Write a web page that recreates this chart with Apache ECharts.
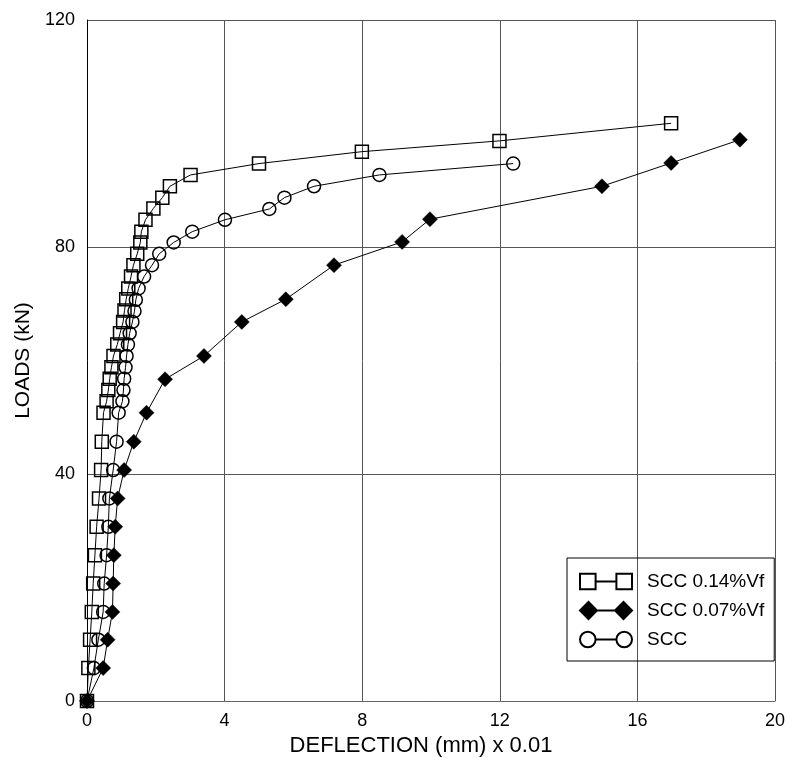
<!DOCTYPE html>
<html>
<head>
<meta charset="utf-8">
<script src="https://cdn.jsdelivr.net/npm/echarts@6/dist/echarts.min.js"></script>
<style>
  html, body { margin: 0; padding: 0; background: #fff; }
  #chart { width: 787px; height: 758px; }
</style>
</head>
<body>
<div id="chart"></div>
<script>
// load steps (kN) and deflections (mm x 0.01)
var loadsVf014 = [0, 5.8, 10.8, 15.7, 20.7, 25.7, 30.7, 35.7, 40.7, 45.7, 50.8, 52.8, 54.8, 56.8, 58.8, 60.8, 62.8, 64.8, 66.8, 68.8, 70.8, 72.7, 74.8, 76.8, 78.8, 80.8, 82.7, 84.8, 86.8, 88.7, 90.7, 92.7, 94.7, 96.8, 98.7, 101.8];
var deflVf014 = [0, 0.04, 0.09, 0.14, 0.18, 0.23, 0.28, 0.35, 0.41, 0.43, 0.48, 0.57, 0.62, 0.66, 0.71, 0.77, 0.88, 0.96, 1.05, 1.09, 1.14, 1.2, 1.28, 1.35, 1.46, 1.55, 1.58, 1.7, 1.93, 2.19, 2.41, 3.01, 5.0, 7.99, 11.99, 16.98];

var loadsVf007 = [0, 5.8, 10.8, 15.7, 20.7, 25.7, 30.7, 35.7, 40.7, 45.7, 50.8, 56.7, 60.8, 66.8, 70.8, 76.8, 80.9, 84.9, 90.7, 94.8, 98.9];
var deflVf007 = [0, 0.47, 0.6, 0.74, 0.76, 0.78, 0.82, 0.89, 1.08, 1.36, 1.73, 2.27, 3.4, 4.5, 5.78, 7.18, 9.16, 9.97, 14.97, 16.98, 18.98];

var loadsScc = [0, 5.8, 10.8, 15.7, 20.7, 25.7, 30.7, 35.7, 40.7, 45.7, 50.8, 52.8, 54.8, 56.8, 58.8, 60.8, 62.8, 64.8, 66.8, 68.7, 70.7, 72.7, 74.8, 76.8, 78.8, 80.8, 82.7, 84.8, 86.7, 88.7, 90.7, 92.7, 94.7];
var deflScc = [0, 0.2, 0.33, 0.47, 0.5, 0.57, 0.62, 0.65, 0.76, 0.86, 0.92, 1.03, 1.06, 1.08, 1.12, 1.15, 1.19, 1.24, 1.32, 1.38, 1.42, 1.5, 1.66, 1.89, 2.1, 2.52, 3.06, 4.01, 5.3, 5.74, 6.6, 8.5, 12.39];

var seriesNames = ['SCC 0.14%Vf', 'SCC 0.07%Vf', 'SCC'];

function pairs(xs, ys) {
    var out = [];
    for (var i = 0; i < xs.length; i++) out.push([xs[i], ys[i]]);
    return out;
}

var font = 'Liberation Sans, Arial, sans-serif';
var myChart = echarts.init(document.getElementById('chart'), null, { renderer: 'canvas' });

var option = {
    animation: false,
    backgroundColor: '#fff',
    textStyle: { fontFamily: font, color: '#000' },
    grid: { left: 87, right: 12, top: 20, bottom: 57, containLabel: false, outerBoundsMode: 'none' },
    legend: {
        orient: 'vertical',
        left: 567,
        top: 558,
        padding: [14, 10, 12, 12],
        itemGap: 10,
        itemWidth: 52,
        itemHeight: 17,
        borderColor: '#000',
        borderWidth: 1,
        backgroundColor: 'transparent',
        textStyle: { fontFamily: font, fontSize: 19, color: '#000', padding: [0, 0, 0, 10] },
        data: [
            { name: seriesNames[0], icon: 'path://M1,1 h15 v15 h-15 Z M16,8.5 h20 M36,1 h15 v15 h-15 Z' },
            { name: seriesNames[1], icon: 'path://M0,8.5 L8.5,0 L17,8.5 L8.5,17 Z M17,8.5 h18 M35,8.5 L43.5,0 L52,8.5 L43.5,17 Z' },
            { name: seriesNames[2], icon: 'path://M1,8.5 a7.5,7.5 0 1,0 15,0 a7.5,7.5 0 1,0 -15,0 Z M16,8.5 h20 M36,8.5 a7.5,7.5 0 1,0 15,0 a7.5,7.5 0 1,0 -15,0 Z' }
        ]
    },
    xAxis: {
        type: 'value',
        min: 0,
        max: 20,
        interval: 4,
        name: 'DEFLECTION (mm) x 0.01',
        nameLocation: 'middle',
        nameGap: 34,
        nameTextStyle: { fontFamily: font, fontSize: 22, color: '#000', padding: [0, 20, 0, 0] },
        axisLine: { show: true, onZero: false, lineStyle: { color: '#666', width: 1 } },
        axisTick: { show: false },
        axisLabel: { fontFamily: font, fontSize: 18, color: '#000', margin: 11 },
        splitLine: { show: true, lineStyle: { color: '#555', width: 1 } }
    },
    yAxis: {
        type: 'value',
        min: 0,
        max: 120,
        interval: 40,
        name: 'LOADS (kN)',
        nameLocation: 'middle',
        nameGap: 50,
        nameRotate: 90,
        nameTextStyle: { fontFamily: font, fontSize: 21, color: '#000' },
        axisLine: { show: true, onZero: false, lineStyle: { color: '#000', width: 1 } },
        axisTick: { show: false },
        axisLabel: { fontFamily: font, fontSize: 18, color: '#000', margin: 12 },
        splitLine: { show: true, lineStyle: { color: '#555', width: 1 } }
    },
    series: [
        {
            name: seriesNames[0],
            type: 'line',
            data: pairs(deflVf014, loadsVf014),
            symbol: 'rect',
            symbolSize: 13,
            showAllSymbol: true,
            lineStyle: { color: '#000', width: 1 },
            itemStyle: { color: 'rgba(255,255,255,0)', borderColor: '#000', borderWidth: 1.5 },
            z: 3
        },
        {
            name: seriesNames[1],
            type: 'line',
            data: pairs(deflVf007, loadsVf007),
            symbol: 'diamond',
            symbolSize: 15,
            showAllSymbol: true,
            lineStyle: { color: '#000', width: 1 },
            itemStyle: { color: '#000', borderColor: '#000', borderWidth: 0.5 },
            z: 4
        },
        {
            name: seriesNames[2],
            type: 'line',
            data: pairs(deflScc, loadsScc),
            symbol: 'circle',
            symbolSize: 13,
            showAllSymbol: true,
            lineStyle: { color: '#000', width: 1 },
            itemStyle: { color: 'rgba(255,255,255,0)', borderColor: '#000', borderWidth: 1.5 },
            z: 3
        }
    ]
};

option && myChart.setOption(option);
</script>
</body>
</html>
